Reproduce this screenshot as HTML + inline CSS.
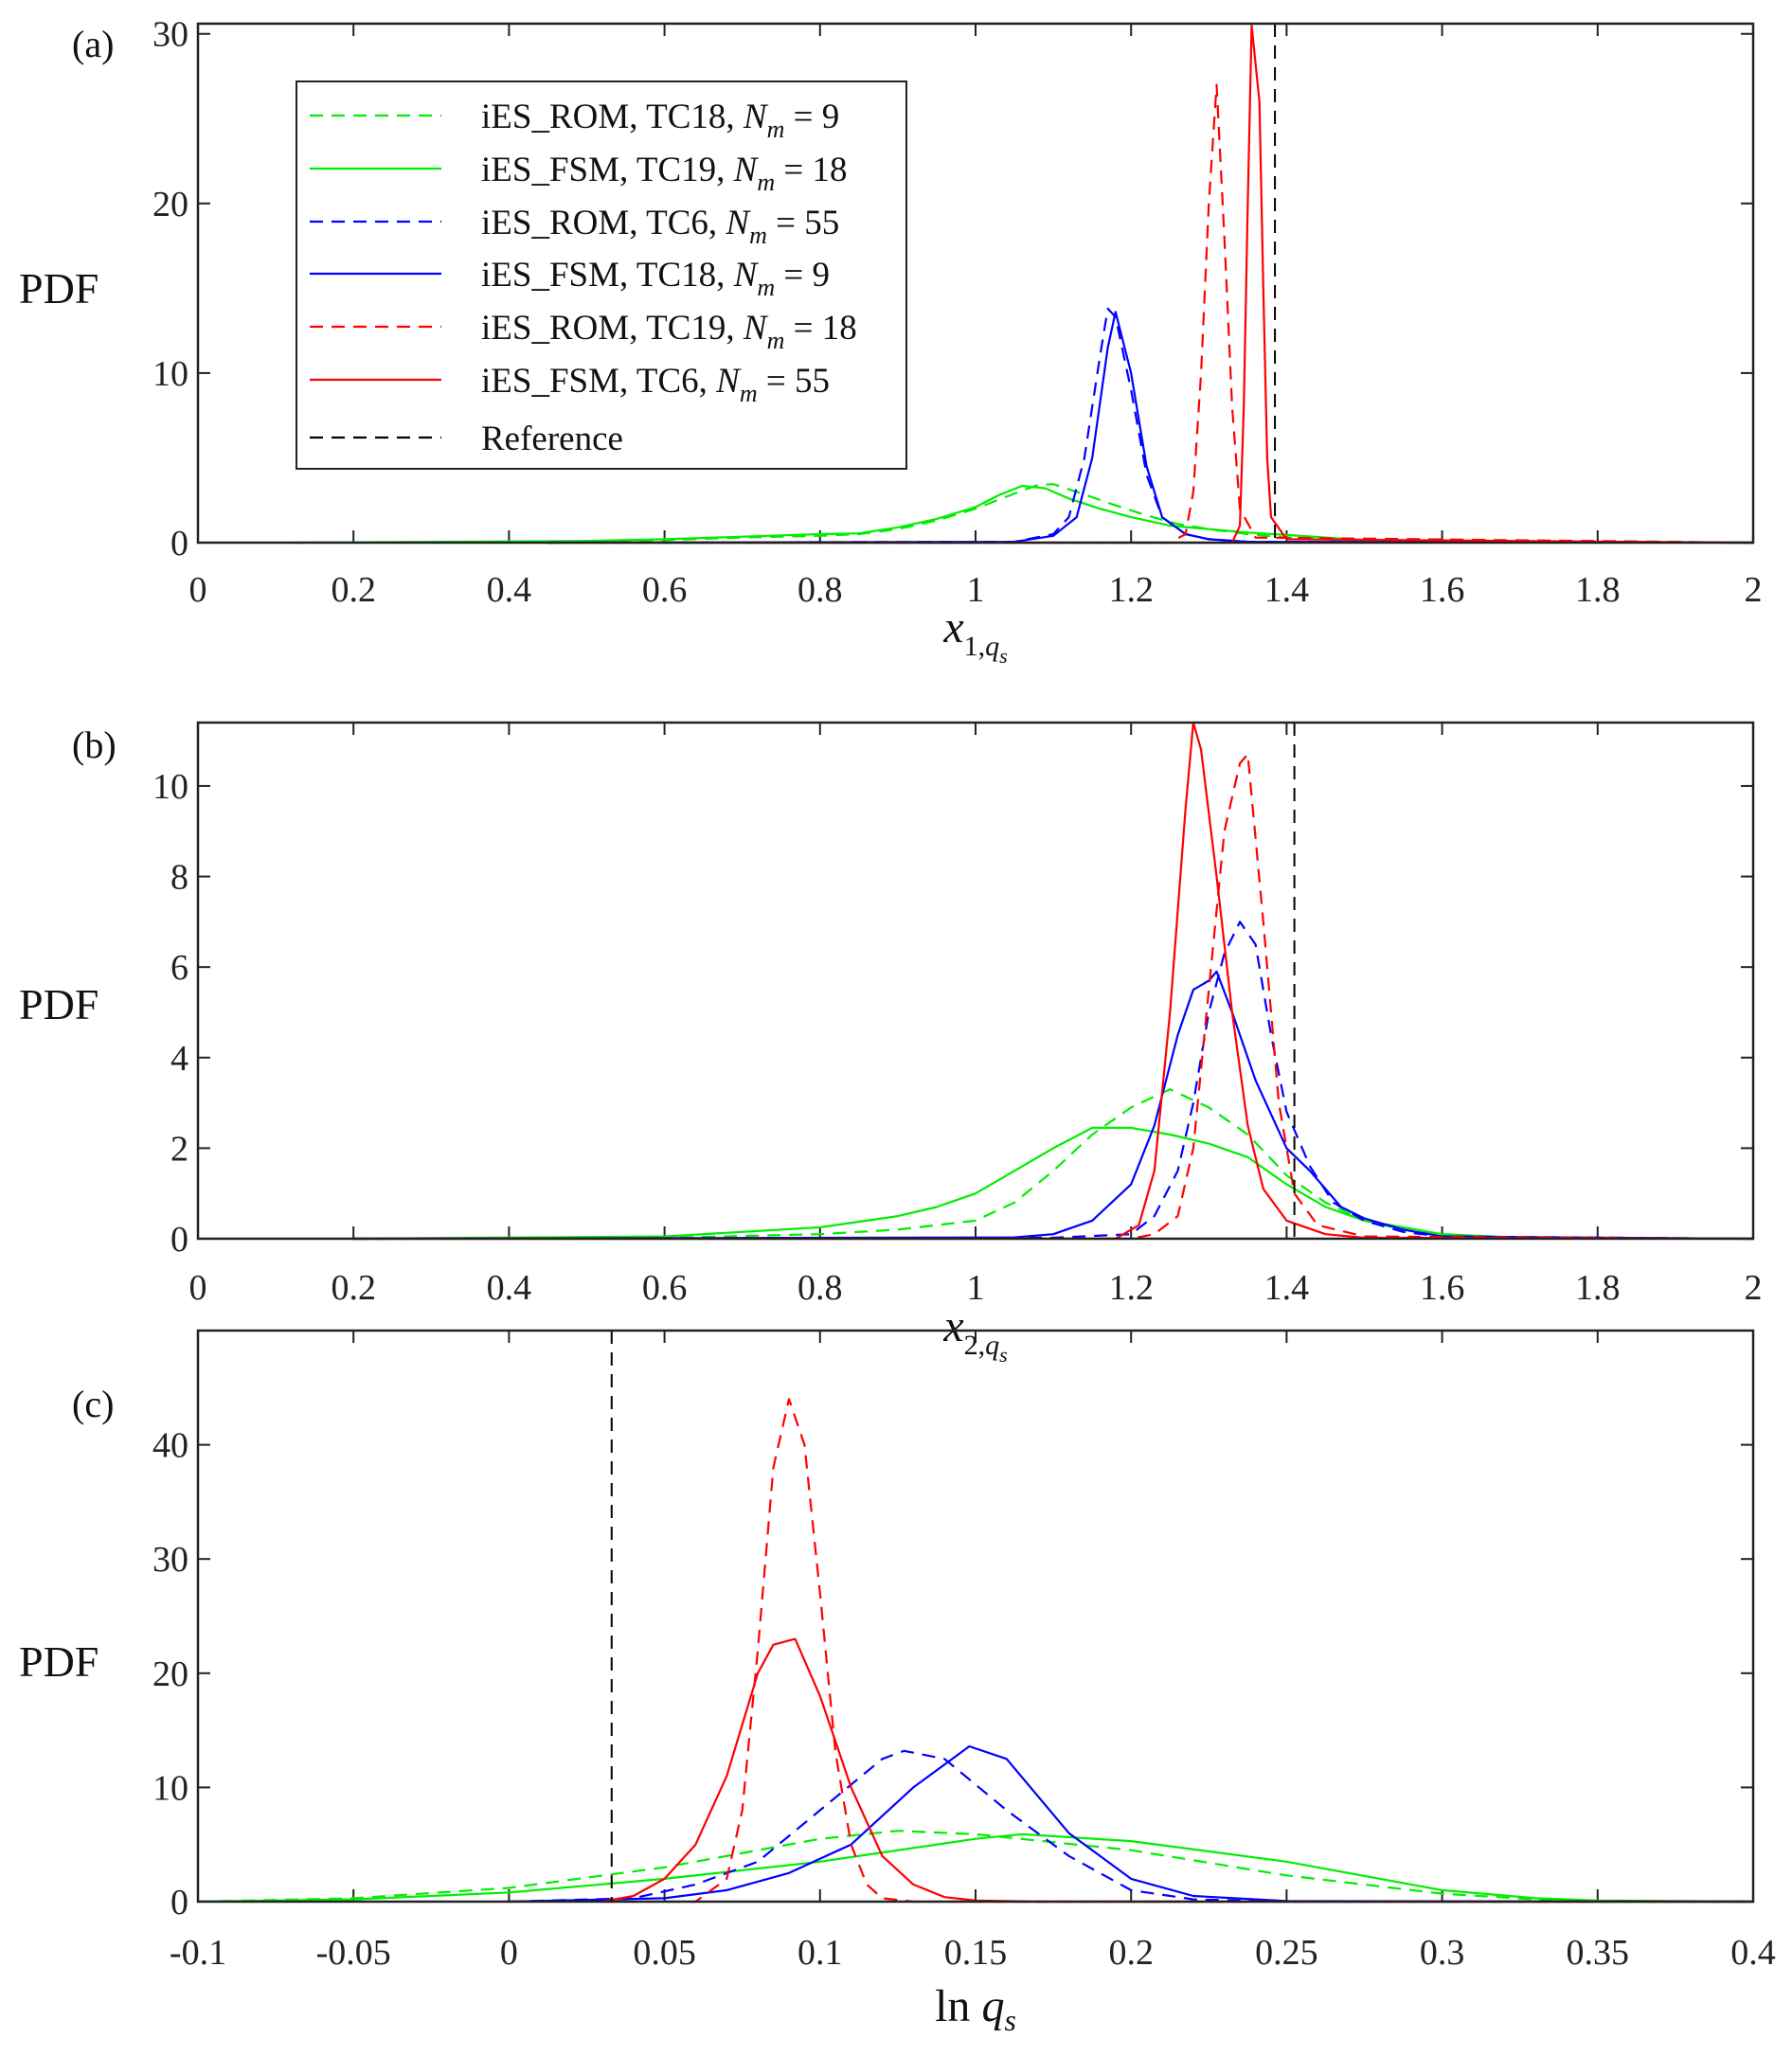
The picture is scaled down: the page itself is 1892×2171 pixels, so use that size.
<!DOCTYPE html>
<html><head><meta charset="utf-8">
<style>
html,body{margin:0;padding:0;background:#fff;}
svg{display:block;font-family:"Liberation Serif","DejaVu Serif",serif;}
</style></head>
<body>
<svg id="fig" width="1892" height="2171" viewBox="0 0 1892 2171" xmlns="http://www.w3.org/2000/svg"></svg>
<script>
// ---- Data ----
const aXticks=[0,0.2,0.4,0.6,0.8,1,1.2,1.4,1.6,1.8,2];
const aYticks=[0,10,20,30];
const aRef=1.385;
const aGreenDashX=[0.12,0.4,0.6,0.7,0.8,0.85,0.9,0.95,1.0,1.05,1.08,1.1,1.13,1.18,1.22,1.26,1.3,1.35,1.4,1.5,1.6,2];
const aGreenDashY=[0,0.02,0.15,0.3,0.4,0.5,0.8,1.3,2.0,2.9,3.4,3.45,3.0,2.2,1.6,1.1,0.8,0.5,0.3,0.1,0.03,0];
const aGreenSolidX=[0.12,0.5,0.6,0.7,0.8,0.85,0.9,0.95,1.0,1.03,1.06,1.09,1.12,1.16,1.2,1.25,1.3,1.35,1.4,1.45,1.5,1.6,2];
const aGreenSolidY=[0,0.1,0.2,0.35,0.5,0.55,0.9,1.4,2.1,2.8,3.35,3.2,2.6,2.0,1.5,1.0,0.8,0.6,0.45,0.3,0.15,0.05,0];
const aBlueDashX=[0.45,1.05,1.1,1.12,1.14,1.16,1.17,1.18,1.2,1.22,1.24,1.27,1.3,1.35,2];
const aBlueDashY=[0,0.05,0.5,1.5,5,11,13.8,13.3,9,4,1.5,0.5,0.2,0.05,0];
const aBlueSolidX=[0.45,1.05,1.1,1.13,1.15,1.17,1.18,1.2,1.22,1.24,1.27,1.3,1.35,2];
const aBlueSolidY=[0,0.05,0.4,1.5,5,11.5,13.6,10,4.5,1.5,0.5,0.2,0.05,0];
const aRedDashX=[0.45,1.25,1.27,1.28,1.29,1.3,1.31,1.32,1.33,1.34,1.36,2];
const aRedDashY=[0,0,0.5,3,10,20,27,18,8,2,0.3,0];
const aRedSolidX=[0.45,1.33,1.34,1.345,1.35,1.355,1.365,1.37,1.375,1.38,1.4,2];
const aRedSolidY=[0,0,1,8,20,30.5,26,15,5,1.5,0.2,0];

const bXticks=[0,0.2,0.4,0.6,0.8,1,1.2,1.4,1.6,1.8,2];
const bYticks=[0,2,4,6,8,10];
const bRef=1.41;
const bGreenDashX=[0.2,0.6,0.8,0.9,1.0,1.05,1.1,1.15,1.2,1.25,1.3,1.35,1.4,1.45,1.5,1.55,1.6,1.7,2];
const bGreenDashY=[0,0.02,0.1,0.2,0.4,0.8,1.5,2.3,2.9,3.3,2.9,2.3,1.4,0.8,0.4,0.2,0.08,0.02,0];
const bGreenSolidX=[0.2,0.6,0.8,0.9,0.95,1.0,1.05,1.1,1.15,1.2,1.25,1.3,1.35,1.4,1.45,1.5,1.55,1.6,1.7,2];
const bGreenSolidY=[0,0.05,0.25,0.5,0.7,1.0,1.5,2.0,2.45,2.45,2.3,2.1,1.8,1.2,0.7,0.4,0.25,0.1,0.02,0];
const bBlueDashX=[0.2,1.1,1.2,1.23,1.26,1.28,1.3,1.32,1.34,1.36,1.38,1.4,1.43,1.46,1.5,1.55,1.6,2];
const bBlueDashY=[0,0.02,0.1,0.5,1.5,3,5,6.3,7.0,6.5,4.5,2.8,1.6,0.8,0.4,0.15,0.05,0];
const bBlueSolidX=[0.2,1.05,1.1,1.15,1.2,1.23,1.26,1.28,1.3,1.31,1.33,1.36,1.4,1.43,1.47,1.5,1.55,1.6,2];
const bBlueSolidY=[0,0.03,0.1,0.4,1.2,2.5,4.5,5.5,5.7,5.9,5.0,3.5,2.0,1.5,0.7,0.45,0.2,0.05,0];
const bRedDashX=[0.2,1.2,1.23,1.26,1.28,1.3,1.32,1.34,1.35,1.37,1.39,1.41,1.44,1.5,2];
const bRedDashY=[0,0,0.1,0.5,2,5.5,9,10.5,10.7,7,3,1,0.3,0.05,0];
const bRedSolidX=[0.2,1.18,1.21,1.23,1.25,1.27,1.28,1.29,1.31,1.33,1.35,1.37,1.4,1.45,1.5,2];
const bRedSolidY=[0,0,0.3,1.5,5,9.5,11.4,10.8,8,5,2.5,1.1,0.4,0.1,0.02,0];

const cXticks=[-0.1,-0.05,0,0.05,0.1,0.15,0.2,0.25,0.3,0.35,0.4];
const cYticks=[0,10,20,30,40];
const cRef=0.033;
const cGreenDashX=[-0.1,-0.05,0,0.05,0.1,0.125,0.15,0.2,0.25,0.3,0.33,0.35,0.4];
const cGreenDashY=[0,0.3,1.2,3,5.5,6.2,5.9,4.5,2.3,0.7,0.2,0.05,0];
const cGreenSolidX=[-0.1,-0.05,0,0.05,0.1,0.15,0.165,0.2,0.25,0.3,0.33,0.35,0.4];
const cGreenSolidY=[0,0.2,0.8,2,3.5,5.5,5.9,5.3,3.5,1.0,0.3,0.1,0];
const cBlueDashX=[0,0.04,0.06,0.08,0.1,0.12,0.127,0.14,0.16,0.18,0.2,0.22,0.25,0.4];
const cBlueDashY=[0,0.3,1.5,3.5,8,12.5,13.2,12.5,8,4,1.0,0.2,0,0];
const cBlueSolidX=[0,0.05,0.07,0.09,0.11,0.13,0.148,0.16,0.18,0.2,0.22,0.25,0.4];
const cBlueSolidY=[0,0.3,1,2.5,5,10,13.6,12.5,6,2,0.5,0.05,0];
const cRedDashX=[0.03,0.06,0.07,0.075,0.08,0.085,0.09,0.095,0.1,0.105,0.11,0.115,0.12,0.13,0.4];
const cRedDashY=[0,0,2,8,22,38,44,40,27,13,5,1.5,0.3,0,0];
const cRedSolidX=[0.03,0.04,0.05,0.06,0.07,0.08,0.085,0.092,0.1,0.11,0.12,0.13,0.14,0.15,0.17,0.4];
const cRedSolidY=[0,0.5,2,5,11,20,22.5,23,18,10,4,1.5,0.4,0.1,0,0];

const legendLabels=[
 ["iES_ROM, TC18, ","9"],["iES_FSM, TC19, ","18"],["iES_ROM, TC6, ","55"],
 ["iES_FSM, TC18, ","9"],["iES_ROM, TC19, ","18"],["iES_FSM, TC6, ","55"],["Reference",null]];

// ---- Drawing ----
const NS="http://www.w3.org/2000/svg";
const svg=document.getElementById('fig');
function mk(tag,attrs,parent){const e=document.createElementNS(NS,tag);for(const k in attrs)e.setAttribute(k,attrs[k]);(parent||svg).appendChild(e);return e;}
const GREEN="#00ee00",BLUE="#0000ff",RED="#ff0000",DASH="14 9";
const L=209,R=1851;

function panel(id,top,bot,xmin,xmax,ymax,xt,yt,series,ref,label,labelY,pdfY,tickY,xlab,xlabY,isLn){
  const g=mk('g',{});
  
  
  const sx=v=>L+(v-xmin)/(xmax-xmin)*(R-L);
  const sy=v=>bot-v/ymax*(bot-top);
  xt.forEach(t=>{
    const x=sx(t);
    mk('line',{x1:x,y1:bot,x2:x,y2:bot-13,stroke:'#222','stroke-width':2},g);
    mk('line',{x1:x,y1:top,x2:x,y2:top+13,stroke:'#222','stroke-width':2},g);
    const tx=mk('text',{x:x,y:tickY,'font-size':38,'text-anchor':'middle',fill:'#222'},g);
    tx.textContent=String(t);
    
    
  });
  yt.forEach(t=>{
    const y=sy(t);
    mk('line',{x1:L,y1:y,x2:L+13,y2:y,stroke:'#222','stroke-width':2},g);
    mk('line',{x1:R,y1:y,x2:R-13,y2:y,stroke:'#222','stroke-width':2},g);
    const tx=mk('text',{x:L-10,y:y+13,'font-size':38,'text-anchor':'end',fill:'#222'},g);
    tx.textContent=String(t);
    
    
  });
  series.forEach(s=>{
    const d=s.x.map((v,i)=>(i?'L':'M')+sx(v).toFixed(1)+','+sy(s.y[i]).toFixed(1)).join('');
    const p=mk('path',{d:d,fill:'none',stroke:s.c,'stroke-width':2.2,'stroke-dasharray':s.dash?DASH:'none','stroke-linejoin':'round'},g);
    
    
  });
  const rl=mk('line',{x1:sx(ref),y1:top,x2:sx(ref),y2:bot,stroke:'#000','stroke-width':2,'stroke-dasharray':DASH},g);
  
  
  mk('rect',{x:L,y:top,width:R-L,height:bot-top,fill:'none',stroke:'#222','stroke-width':2.5},g);
  const lb=mk('text',{x:76,y:labelY,'font-size':40,fill:'#111'},g);
  lb.textContent=label;
  
  
  const pd=mk('text',{x:20,y:pdfY,'font-size':46,fill:'#111'},g);
  pd.textContent='PDF';
  
  
  const xl=mk('text',{x:(L+R)/2,y:xlabY,'font-size':48,'text-anchor':'middle',fill:'#111'},g);
  
  
  if(isLn){xl.innerHTML='ln <tspan font-style="italic">q</tspan><tspan font-size="32" font-style="italic" dy="10">s</tspan>';}
  else{xl.innerHTML='<tspan font-style="italic">x</tspan><tspan font-size="30" dy="14">'+xlab+',</tspan><tspan font-size="30" font-style="italic">q</tspan><tspan font-size="22" font-style="italic" dy="8">s</tspan>';}
}
function S(a){return [
 {name:'green-dashed-rom',x:a[0],y:a[1],c:GREEN,dash:true},
 {name:'green-solid-fsm',x:a[2],y:a[3],c:GREEN,dash:false},
 {name:'blue-dashed-rom',x:a[4],y:a[5],c:BLUE,dash:true},
 {name:'blue-solid-fsm',x:a[6],y:a[7],c:BLUE,dash:false},
 {name:'red-dashed-rom',x:a[8],y:a[9],c:RED,dash:true},
 {name:'red-solid-fsm',x:a[10],y:a[11],c:RED,dash:false}];}

panel('panel-a',25,573,0,2,30.6,aXticks,aYticks,
  S([aGreenDashX,aGreenDashY,aGreenSolidX,aGreenSolidY,aBlueDashX,aBlueDashY,aBlueSolidX,aBlueSolidY,aRedDashX,aRedDashY,aRedSolidX,aRedSolidY]),
  aRef,'(a)',60,320,635,'1',678,false);
panel('panel-b',763,1308,0,2,11.4,bXticks,bYticks,
  S([bGreenDashX,bGreenDashY,bGreenSolidX,bGreenSolidY,bBlueDashX,bBlueDashY,bBlueSolidX,bBlueSolidY,bRedDashX,bRedDashY,bRedSolidX,bRedSolidY]),
  bRef,'(b)',800,1076,1372,'2',1416,false);
panel('panel-c',1405,2008,-0.1,0.4,50,cXticks,cYticks,
  S([cGreenDashX,cGreenDashY,cGreenSolidX,cGreenSolidY,cBlueDashX,cBlueDashY,cBlueSolidX,cBlueSolidY,cRedDashX,cRedDashY,cRedSolidX,cRedSolidY]),
  cRef,'(c)',1496,1770,2074,'',2134,true);

const lg=mk('g',{});


mk('rect',{x:313,y:86,width:644,height:409,fill:'#fff',stroke:'#222','stroke-width':2},lg);
const lcol=[GREEN,GREEN,BLUE,BLUE,RED,RED,'#000'];
const ldash=[true,false,true,false,true,false,true];
const lys=[122,178,234,289,345,401,462];
legendLabels.forEach((lab,i)=>{
  const y=lys[i];
  mk('line',{x1:327,y1:y,x2:466,y2:y,stroke:lcol[i],'stroke-width':2.2,'stroke-dasharray':ldash[i]?DASH:'none'},lg);
  const t=mk('text',{x:508,y:y+13,'font-size':37,fill:'#111'},lg);
  
  
  if(lab[1]===null) t.textContent=lab[0];
  else t.innerHTML=lab[0]+'<tspan font-style="italic">N</tspan><tspan font-size="26" font-style="italic" dy="10">m</tspan><tspan dy="-10"> = '+lab[1]+'</tspan>';
});
</script>
</body></html>
